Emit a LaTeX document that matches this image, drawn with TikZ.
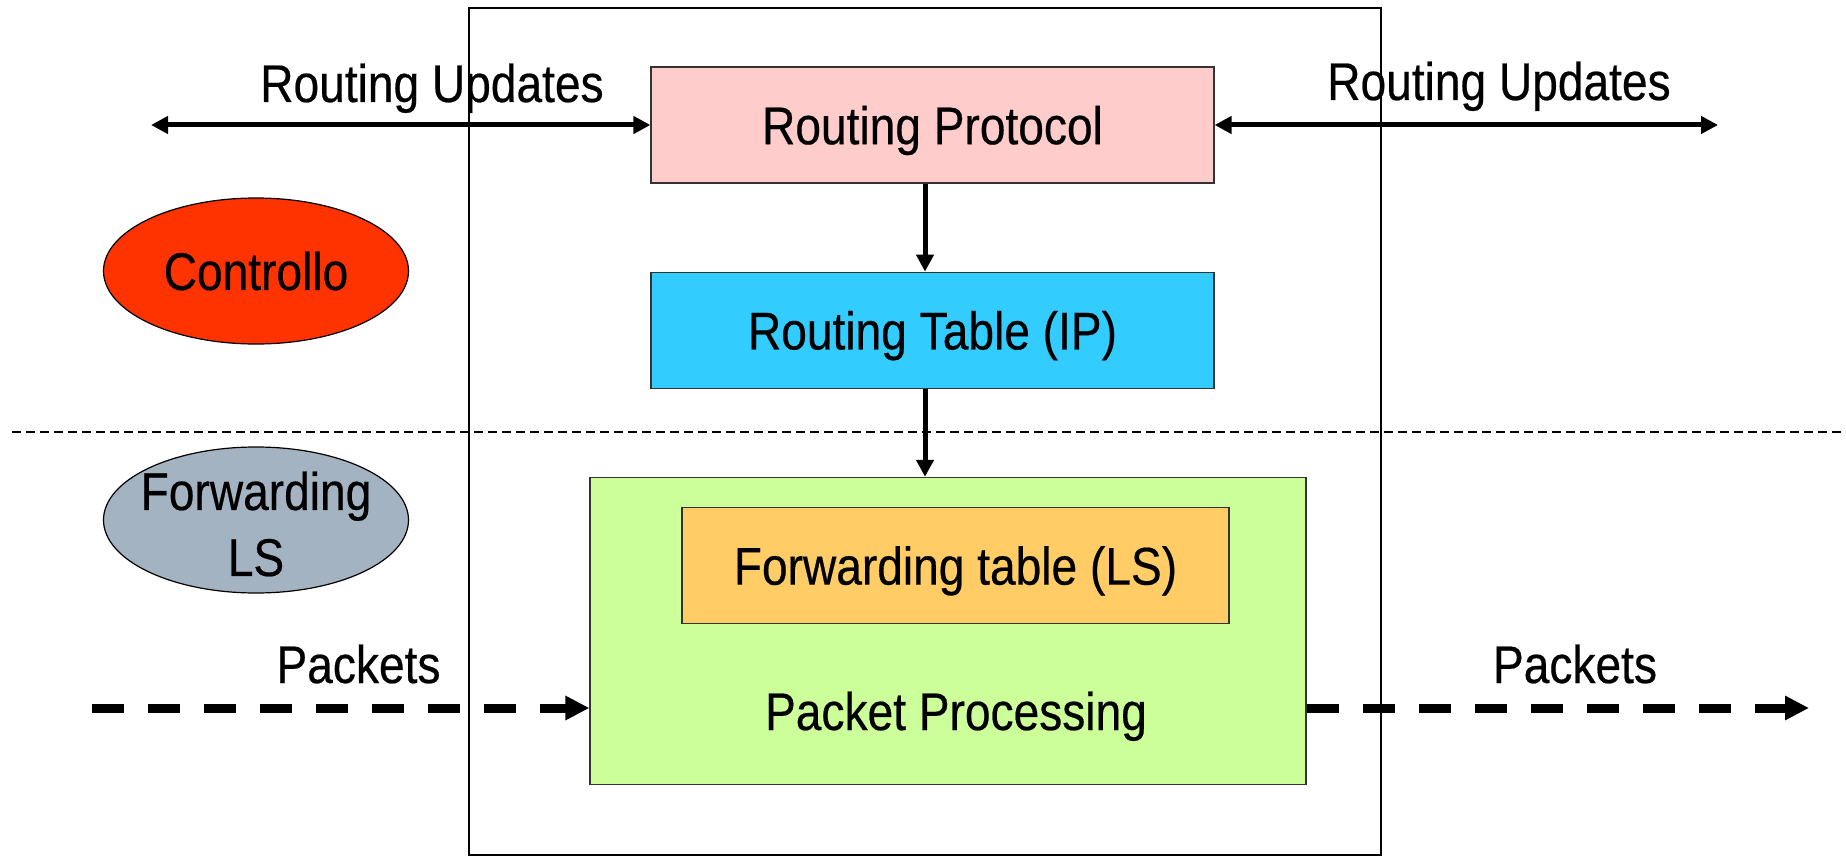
\documentclass[tikz,border=0pt]{standalone}
\usepackage{fontspec}
\setmainfont[FakeStretch=0.87, FakeBold=0.4]{Liberation Sans}
\usetikzlibrary{shapes, arrows.meta, positioning, calc}

\definecolor{protopink}{HTML}{FFCCCC}
\definecolor{tablecyan}{HTML}{33CCFF}
\definecolor{procgreen}{HTML}{CCFF99}
\definecolor{fworange}{HTML}{FFCC66}
\definecolor{ctrlred}{HTML}{FF3300}
\definecolor{fwgrey}{HTML}{A3B3C2}

\begin{document}
\begin{tikzpicture}
  [x=0.5pt, y=-0.5pt,
  font=\fontsize{26.5}{33}\selectfont,
  % block
  block/.style = {rectangle,
    draw=black!80, line width=0.6pt,
    node distance = 44pt,
    minimum height = 58pt,
    minimum width = 281.5pt,
    text depth = 0pt},
  %bulat
  bulat/.style = {ellipse,
    draw, line width=0.6pt, align=center, inner sep=0pt,
    minimum height = 73pt, minimum width = 152.5pt},
  % line
  line/.style = {draw, line width=2.5pt, -{Triangle[length=8.5pt, width=8.5pt]}},
  update/.style = {line, {Triangle[length=8.5pt, width=8.5pt]}-{Triangle[length=8.5pt, width=8.5pt]}},
  packet/.style = {draw, line width=4.5pt, dash pattern=on 16pt off 12pt,
    -{Triangle[length=12pt, width=11.5pt]}},
  ]

  \useasboundingbox (0,0) rectangle (1846,856);

  % router frame and plane separator
  \node [draw, line width=0.75pt, minimum width=456pt, minimum height=423.5pt,
    inner sep=0pt] (router) at (925,431.5) {};
  \coordinate (sepl) at (12,432);
  \coordinate (sepr) at (1846,432);
  \path [draw, line width=0.6pt, dash pattern=on 4.5pt off 2.5pt] (sepl) -- (sepr);

  % nodes
  \node [block, fill=protopink] (rp) at (932.5,125) {Routing Protocol};
  \node [block, fill=tablecyan, below= of rp] (rt) {Routing Table (IP)};
  \node [block, fill=procgreen, below= of rt, xshift=7.75pt,
    minimum width=358pt, minimum height=153.5pt] (pp) {};
  \node [block, fill=fworange, below=15pt of pp.north, xshift=3.75pt,
    minimum width=273.5pt] (ft) {Forwarding table (LS)};
  \node [above=27.5pt of pp.south, anchor=base, xshift=4pt] (pptxt) {Packet Processing};

  \node [bulat, fill=ctrlred] (ctrl) at (256,271) {Controllo};
  \node [bulat, fill=fwgrey,
    label={[align=center, name=fwlstxt, yshift=-2pt]center:Forwarding\\LS}] (fwls) at (256,520) {};

  \coordinate (updl) at (151,125);
  \coordinate (updr) at (1718,125);
  \node [anchor=base] (updltxt) at (432,102) {Routing Updates};
  \node [anchor=base] (updrtxt) at (1499,100) {Routing Updates};

  \coordinate (pktin) at (92,708);
  \coordinate (pktout) at (1809,708);
  \node [anchor=base] (pktintxt) at (358.5,683) {Packets};
  \node [anchor=base] (pktouttxt) at (1575,683) {Packets};

  % path
  \path [update] (updl) -- (rp.west);
  \path [update] (rp.east) -- (updr);
  \path [line] ([xshift=-3.75pt]rp.south) -- ([xshift=-3.75pt]rt.north);
  \path [line] ([xshift=-3.75pt]rt.south) -- ([xshift=-3.75pt]rt.south |- pp.north);
  \path [packet] (pktin) -- (pktin -| pp.west);
  \path [packet] (pktout -| pp.east) -- (pktout);

\end{tikzpicture}
\end{document}
